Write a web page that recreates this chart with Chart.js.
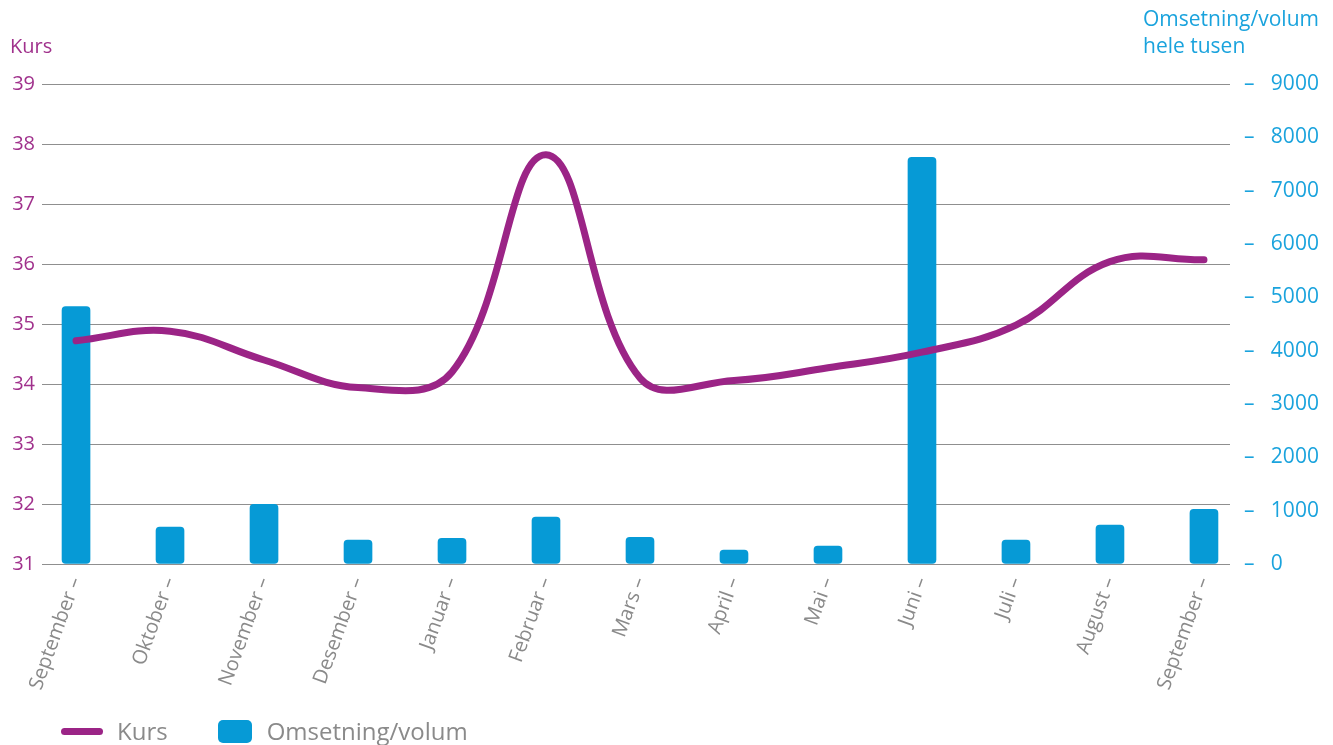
<!DOCTYPE html>
<html>
<head>
<meta charset="utf-8">
<script src="https://cdn.jsdelivr.net/npm/chart.js@4.4.1/dist/chart.umd.min.js"></script>
<style>
  html, body { margin: 0; padding: 0; background: #fff; overflow: hidden; }
  #wrap { position: relative; width: 1333px; height: 745px; }
  .legend { position: absolute; left: 61px; top: 715px; display: flex; align-items: center;
            font-family: 'Open Sans', sans-serif; font-size: 24px; line-height: 32px; color: #8a8a8a; }
  .legend span.sw-line { display: inline-block; width: 42px; height: 7px; border-radius: 4px;
                         background: #9b2486; margin-right: 14px; }
  .legend span.sw-bar { display: inline-block; width: 34px; height: 23px; border-radius: 5px;
                        background: #069ad6; margin-left: 50px; margin-right: 15px; }
</style>
</head>
<body>
<div id="wrap">
  <canvas id="kursChart"></canvas>
  <div class="legend" id="legend"></div>
</div>
<script>
        // data lest av fra grafen
        const months = ['September', 'Oktober', 'November', 'Desember', 'Januar', 'Februar', 'Mars',
                        'April', 'Mai', 'Juni', 'Juli', 'August', 'September'];
        const kurs = [34.72, 34.88, 34.4, 33.94, 34.2, 37.82, 34.1, 34.06, 34.27, 34.53, 34.98, 36.04, 36.07];
        const volum = [4825, 694, 1120, 450, 481, 881, 500, 263, 338, 7625, 450, 731, 1025];
        const kursTicks = [31, 39, 1];
        const volumTicks = [0, 9000, 1000];

        const purple = '#9b2486';
        const blue = '#069ad6';
        const grey = '#8a8a8a';
        const font = "'Open Sans', sans-serif";

        // overskrifter over aksene
        const axisHeaders = {
            id: 'axisHeaders',
            afterDraw(chart) {
                const ctx = chart.ctx;
                const area = chart.chartArea;
                ctx.save();
                ctx.font = '20px ' + font;
                ctx.textBaseline = 'middle';
                ctx.textAlign = 'left';
                ctx.fillStyle = '#a0318c';
                ctx.fillText('Kurs', area.left - 32, area.top - 37);
                ctx.font = '21px ' + font;
                ctx.fillStyle = '#1aa3dd';
                ctx.fillText('Omsetning/volum', area.right - 87, area.top - 64);
                ctx.fillText('hele tusen', area.right - 87, area.top - 37);
                ctx.restore();
            }
        };

        const ctx = document.getElementById('kursChart').getContext('2d');

        const chart = new Chart(ctx, {
            data: {
                datasets: [{
                    type: 'line',
                    label: 'Kurs',
                    data: kurs.map((v, i) => ({ x: i, y: v })),
                    yAxisID: 'y',
                    borderColor: purple,
                    backgroundColor: purple,
                    borderWidth: 7,
                    borderCapStyle: 'round',
                    tension: 0.4,
                    pointRadius: 0,
                    order: 1
                }, {
                    type: 'bar',
                    label: 'Omsetning/volum',
                    data: volum.map((v, i) => ({ x: i, y: v })),
                    yAxisID: 'y2',
                    backgroundColor: blue,
                    barThickness: 28,
                    borderRadius: 4,
                    borderSkipped: false,
                    order: 2
                }]
            },
            options: {
                responsive: true,
                maintainAspectRatio: false,
                animation: false,
                layout: {
                    padding: { left: 12, right: 0, top: 84, bottom: 36 }
                },
                plugins: {
                    tooltip: { enabled: false },
                    legend: { display: false }
                },
                scales: {
                    x: {
                        type: 'linear',
                        offset: false,
                        min: -0.362,
                        max: 12.277,
                        grid: { display: false },
                        border: { display: false },
                        afterFit: function(scale) { scale.height = 145; },
                        ticks: {
                            stepSize: 1,
                            includeBounds: false,
                            autoSkip: false,
                            minRotation: 70,
                            maxRotation: 70,
                            padding: 2,
                            color: grey,
                            font: { family: font, size: 20 },
                            callback: function(value) {
                                return Number.isInteger(value) && months[value] ? months[value] + ' \u2013' : '';
                            }
                        }
                    },
                    y: {
                        position: 'left',
                        min: kursTicks[0],
                        max: kursTicks[1],
                        border: { display: false },
                        grid: { color: '#8f8f8f', lineWidth: 1, drawTicks: false },
                        afterFit: function(scale) { scale.width = 30; },
                        ticks: {
                            stepSize: kursTicks[2],
                            padding: 7,
                            color: '#a0318c',
                            font: { family: font, size: 20 }
                        }
                    },
                    y2: {
                        position: 'right',
                        min: volumTicks[0],
                        max: volumTicks[1],
                        border: { display: false },
                        grid: { drawOnChartArea: false, drawTicks: false },
                        afterFit: function(scale) { scale.width = 103; },
                        ticks: {
                            stepSize: volumTicks[2],
                            padding: 14,
                            color: '#1aa3dd',
                            font: { family: font, size: 21 },
                            callback: function(value) {
                                return '\u2013   ' + value;
                            }
                        }
                    }
                }
            },
            plugins: [axisHeaders]
        });

        // egen tegnforklaring under grafen
        const legendEl = document.getElementById('legend');
        chart.data.datasets.forEach(function(ds) {
            const sw = document.createElement('span');
            sw.className = ds.type === 'line' ? 'sw-line' : 'sw-bar';
            const txt = document.createElement('span');
            txt.textContent = ds.label;
            legendEl.appendChild(sw);
            legendEl.appendChild(txt);
        });
</script>
</body>
</html>
